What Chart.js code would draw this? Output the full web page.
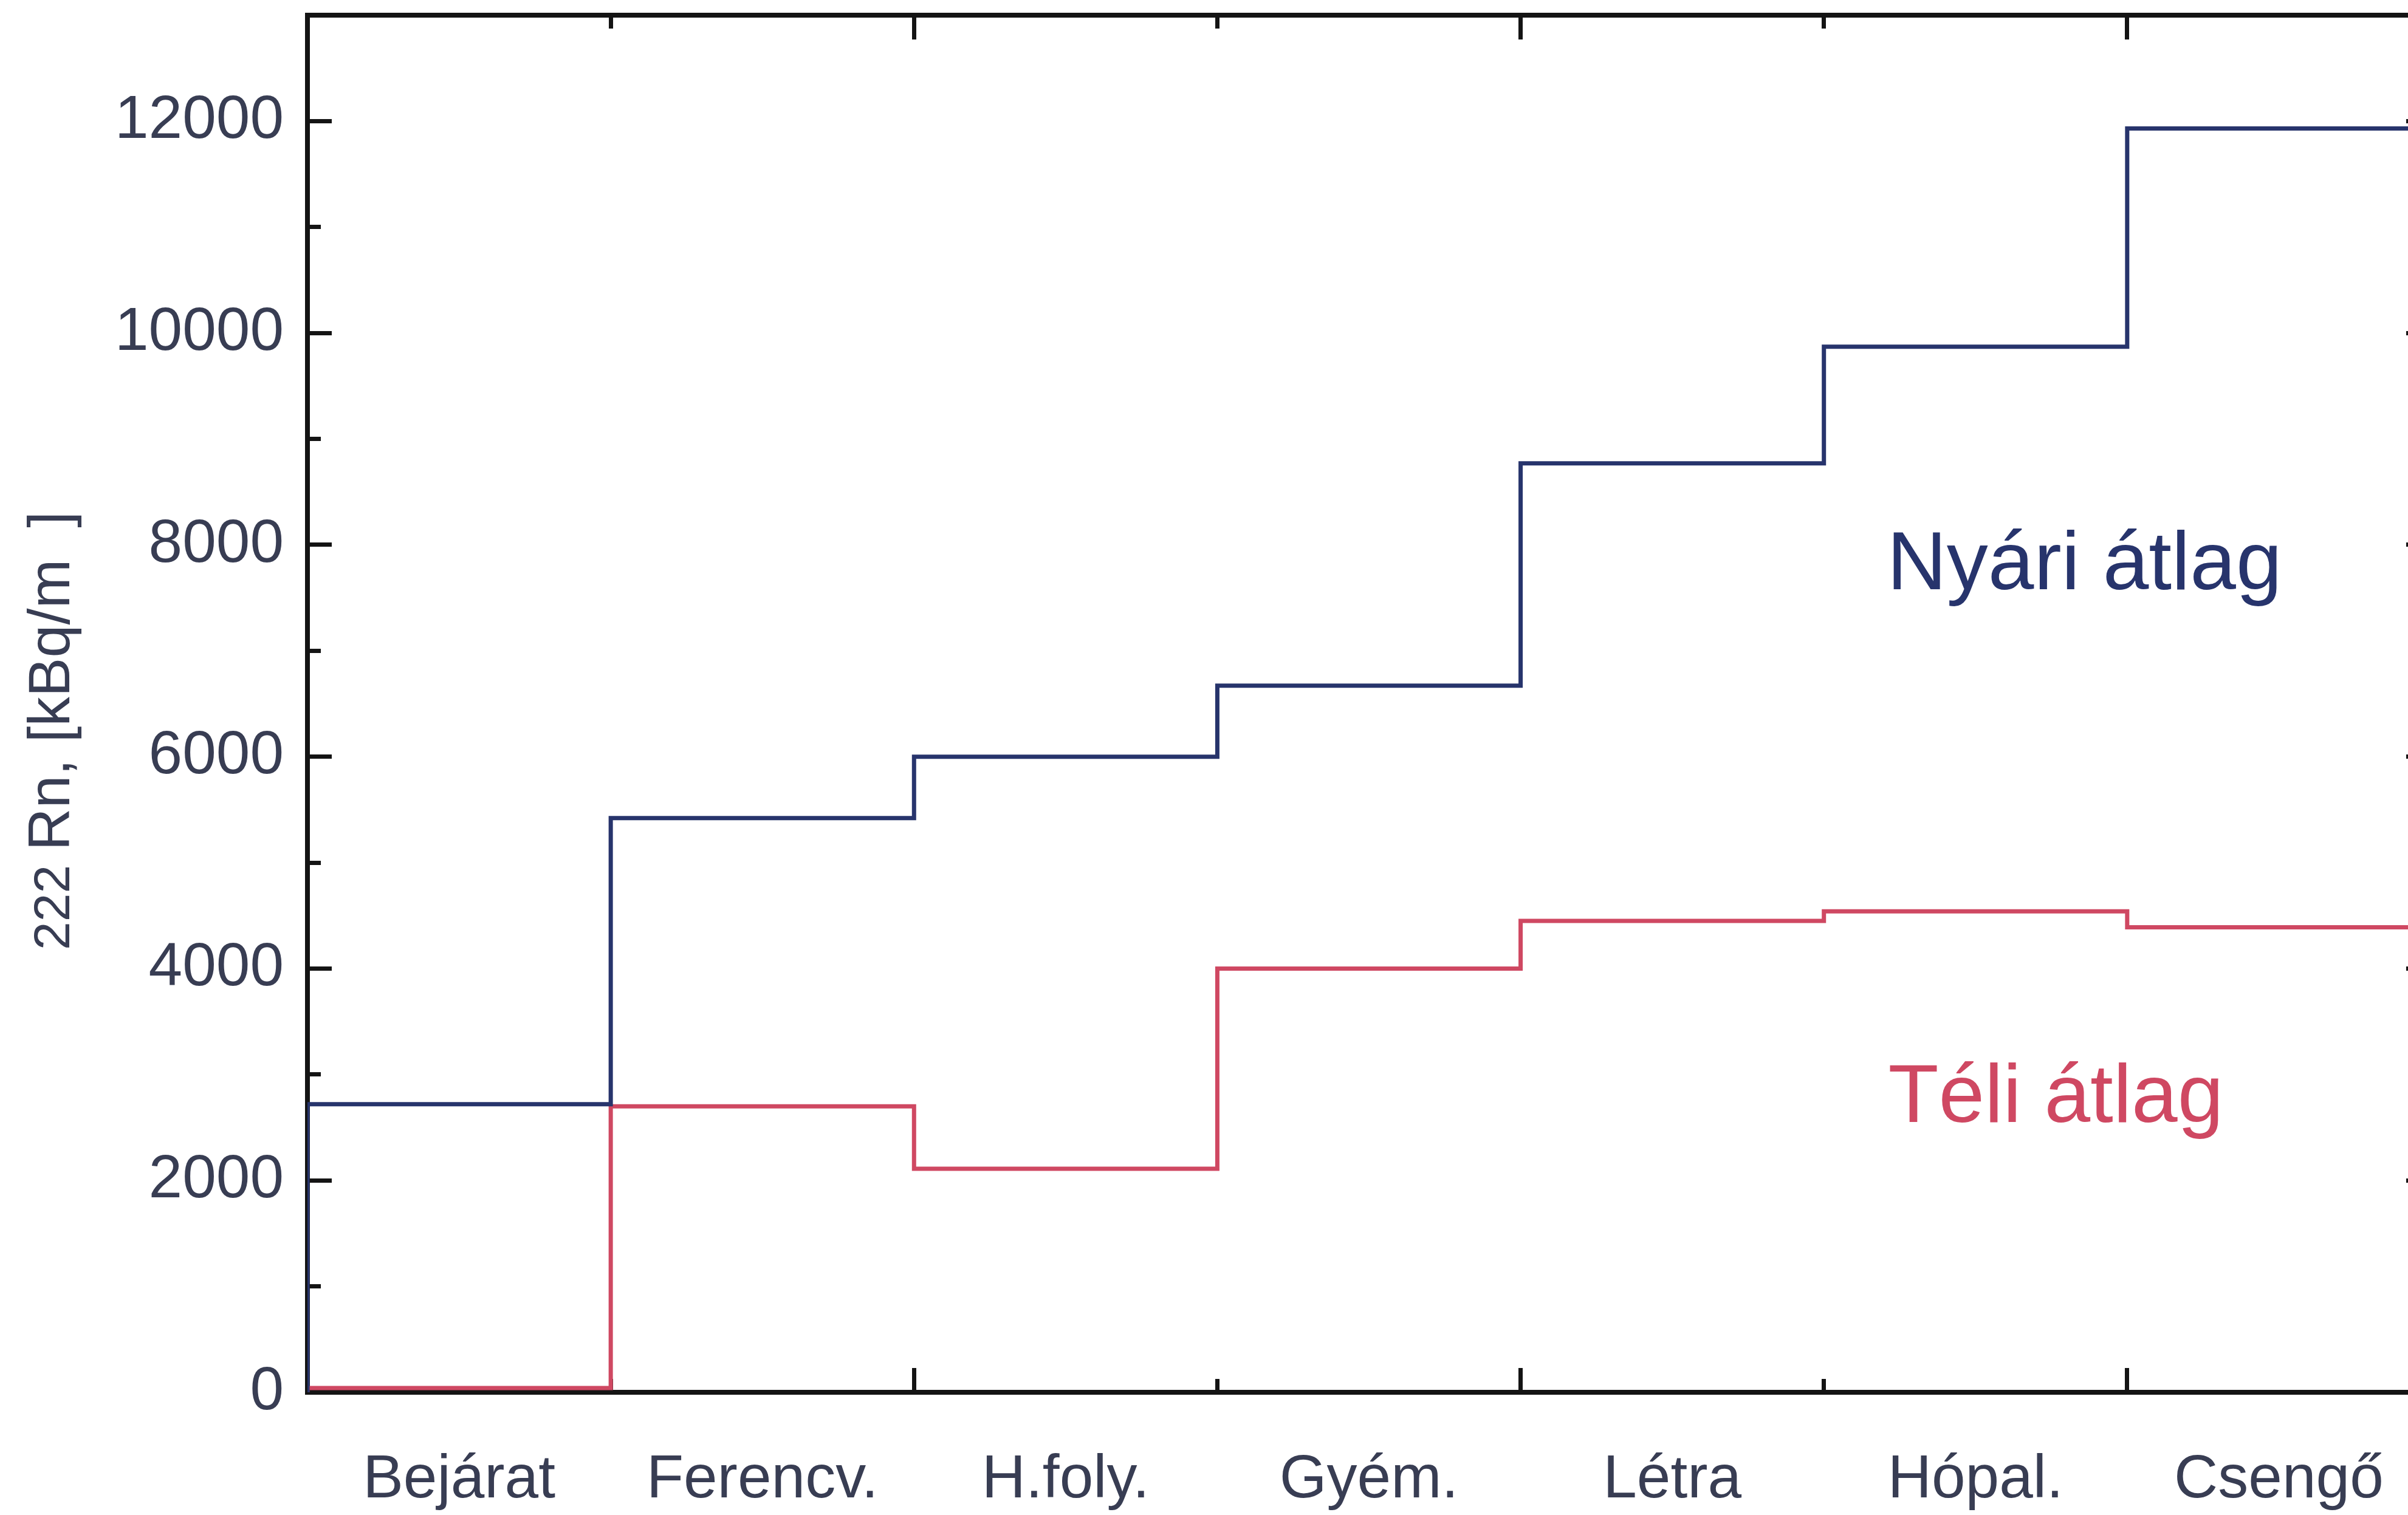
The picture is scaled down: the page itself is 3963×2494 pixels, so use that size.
<!DOCTYPE html>
<html>
<head>
<meta charset="utf-8">
<script src="https://cdn.jsdelivr.net/npm/chart.js@4/dist/chart.umd.min.js"></script>
<style>
  html, body { margin: 0; padding: 0; background: #ffffff; overflow: hidden; }
  #wrap { position: absolute; left: 0; top: 0; width: 4040px; height: 2494px; }
  canvas { display: block; }
</style>
</head>
<body>
<div id="wrap"><canvas id="c" width="4040" height="2494"></canvas></div>
<script>
// Cave sections along the path
const categories = ['Bejárat', 'Ferencv.', 'H.foly.', 'Gyém.', 'Létra', 'Hópal.', 'Csengő'];
// 222Rn activity concentration per section
const summerAvg = [2720, 5420, 6000, 6670, 8770, 9870, 11930];
const winterAvg = [40, 2700, 2110, 4000, 4450, 4540, 4390];
// Axis ticks
const yTickValues = [0, 2000, 4000, 6000, 8000, 10000, 12000];
const yMinorValues = [1000, 3000, 5000, 7000, 9000, 11000];
const xLongBoundaries = [2, 4, 6];
const xShortBoundaries = [1, 3, 5];
const yMax = 13000;

const FONT = 'Liberation Sans, Arial, Helvetica, sans-serif';
const BLUE = '#27346c';
const RED = '#cf4862';
const INK = '#383d53';
const FRAME = '#141414';

// Step curve: rises from zero at the entrance, one level per section
function stepPoints(values) {
  const pts = [{ x: 0, y: 0 }];
  values.forEach((v, i) => pts.push({ x: i, y: v }));
  pts.push({ x: values.length, y: values[values.length - 1] });
  return pts;
}

// Keep the plot frame where the layout puts it, ignoring label overhang
function noOverhang(s) {
  s.paddingTop = 0; s.paddingBottom = 0; s.paddingLeft = 0; s.paddingRight = 0;
}

// Invisible helper axis that only draws inward tick marks
function tickAxis(position, values, length) {
  const horizontal = position === 'top' || position === 'bottom';
  return {
    type: 'linear',
    axis: horizontal ? 'x' : 'y',
    position: position,
    min: 0,
    max: horizontal ? categories.length : yMax,
    weight: 0,
    display: true,
    border: { display: false },
    grid: {
      display: true, drawOnChartArea: false, drawTicks: true,
      tickLength: -length, lineWidth: 7, tickWidth: 7,
      color: FRAME, tickColor: FRAME
    },
    ticks: { display: false },
    afterBuildTicks: s => { s.ticks = values.map(v => ({ value: v })); },
    afterFit: s => { noOverhang(s); if (horizontal) s.height = 0; else s.width = 0; }
  };
}

// Rotated y-axis title with a smaller mass number
const yTitlePlugin = {
  id: 'yTitle',
  afterDraw(chart) {
    const ctx = chart.ctx;
    const area = chart.chartArea;
    ctx.save();
    ctx.translate(114, area.top + 1539);
    ctx.rotate(-Math.PI / 2);
    ctx.fillStyle = INK;
    ctx.textBaseline = 'alphabetic';
    ctx.textAlign = 'left';
    let x = 0;
    ctx.font = '84px ' + FONT;
    ctx.fillText('222', x, 0);
    x += ctx.measureText('222 ').width;
    ctx.font = '97px ' + FONT;
    ctx.fillText('Rn, [kBq/m', x, 0);
    x += ctx.measureText('Rn, [kBq/m').width + 52;
    ctx.fillText(']', x, 0);
    ctx.restore();
  }
};

// Series names written inside the plot
const seriesNames = [
  { text: 'Nyári átlag', color: BLUE, x: 5.208, y: 7580 },
  { text: 'Téli átlag', color: RED, x: 5.212, y: 2550 }
];
const seriesNamePlugin = {
  id: 'seriesNames',
  afterDatasetsDraw(chart) {
    const ctx = chart.ctx;
    const xs = chart.scales.x, ys = chart.scales.y;
    ctx.save();
    ctx.font = '136px ' + FONT;
    ctx.textAlign = 'left';
    ctx.textBaseline = 'alphabetic';
    seriesNames.forEach(n => {
      ctx.fillStyle = n.color;
      ctx.fillText(n.text, xs.getPixelForValue(n.x), ys.getPixelForValue(n.y));
    });
    ctx.restore();
  }
};

new Chart(document.getElementById('c'), {
  type: 'line',
  data: {
    datasets: [
      {
        label: 'Nyári átlag',
        data: stepPoints(summerAvg),
        borderColor: BLUE, borderWidth: 7,
        stepped: true, pointRadius: 0, fill: false
      },
      {
        label: 'Téli átlag',
        data: stepPoints(winterAvg),
        borderColor: RED, borderWidth: 7,
        stepped: true, pointRadius: 0, fill: false
      }
    ]
  },
  options: {
    responsive: false,
    animation: false,
    devicePixelRatio: 1,
    layout: { padding: { top: 25, right: 40, left: 0, bottom: 0 } },
    plugins: { legend: { display: false }, tooltip: { enabled: false } },
    scales: {
      x: {
        type: 'linear', position: 'bottom', min: 0, max: categories.length,
        weight: 1,
        border: { display: true, color: FRAME, width: 8 },
        grid: { display: false },
        ticks: {
          color: INK, padding: 77, maxRotation: 0, autoSkip: false,
          font: { family: FONT, size: 100 },
          callback: (v, i) => categories[i]
        },
        afterBuildTicks: s => { s.ticks = categories.map((c, i) => ({ value: i + 0.5 })); },
        afterFit: s => { noOverhang(s); s.height = 2494 - 2292; }
      },
      y: {
        type: 'linear', position: 'left', min: 0, max: yMax,
        weight: 1,
        border: { display: true, color: FRAME, width: 8 },
        grid: { display: false },
        ticks: {
          color: INK, padding: 31,
          font: { family: FONT, size: 100 },
          callback: v => String(v)
        },
        afterBuildTicks: s => { s.ticks = yTickValues.map(v => ({ value: v })); },
        afterFit: s => { noOverhang(s); s.width = 506; }
      },
      xTop: {
        type: 'linear', axis: 'x', position: 'top', min: 0, max: categories.length,
        weight: 1,
        border: { display: true, color: FRAME, width: 8 },
        grid: { display: false },
        ticks: { display: false },
        afterFit: s => { noOverhang(s); s.height = 0; }
      },
      yRight: {
        type: 'linear', axis: 'y', position: 'right', min: 0, max: yMax,
        weight: 1,
        border: { display: true, color: FRAME, width: 8 },
        grid: { display: false },
        ticks: { display: false },
        afterFit: s => { noOverhang(s); s.width = 0; }
      },
      xBotLong: tickAxis('bottom', xLongBoundaries, 40),
      xBotShort: tickAxis('bottom', xShortBoundaries, 22),
      xTopLong: tickAxis('top', xLongBoundaries, 40),
      xTopShort: tickAxis('top', xShortBoundaries, 22),
      yLeftLong: tickAxis('left', yTickValues, 40),
      yLeftShort: tickAxis('left', yMinorValues, 22),
      yRightLong: tickAxis('right', yTickValues, 40),
      yRightShort: tickAxis('right', yMinorValues, 22)
    }
  },
  plugins: [yTitlePlugin, seriesNamePlugin]
});
</script>
</body>
</html>
